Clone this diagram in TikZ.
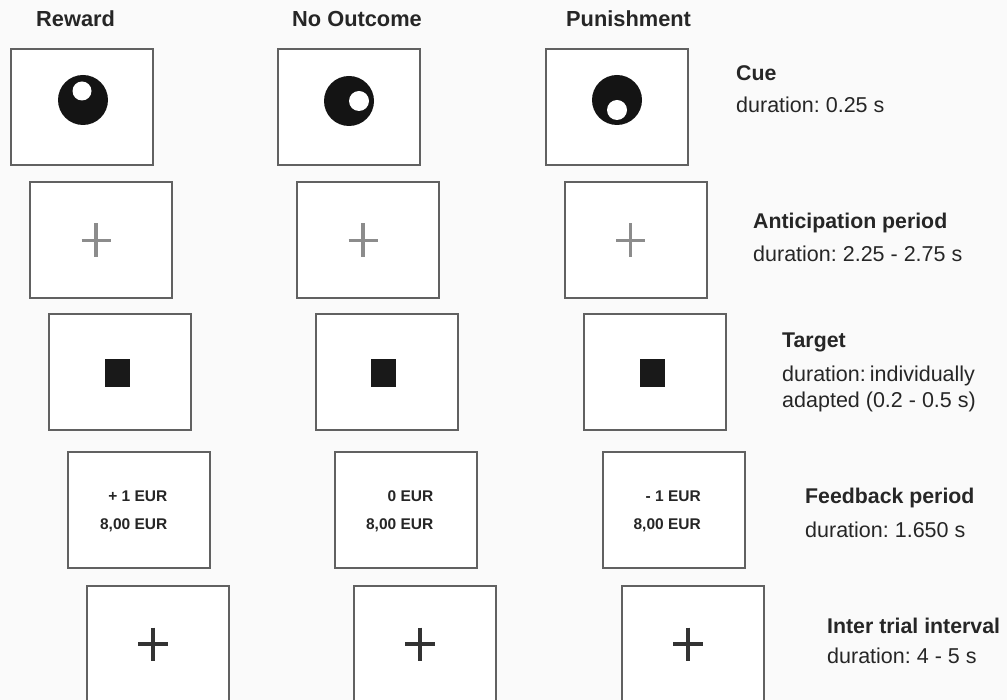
\documentclass[tikz,border=0pt]{standalone}
\usepackage{fontspec}
\setmainfont{Liberation Sans}
\frenchspacing
\begin{document}
\begin{tikzpicture}[x=1pt,y=-1pt,
  scr/.style={draw=black!62,line width=2pt,fill=white,minimum width=142pt,minimum height=116pt,inner sep=0pt},
  hdr/.style={anchor=base west,inner sep=0pt,font=\fontsize{21.8}{25}\selectfont\bfseries,text=black!85},
  lab/.style={anchor=base west,inner sep=0pt,font=\fontsize{21.3}{25}\selectfont\bfseries,text=black!85},
  dur/.style={anchor=base west,inner sep=0pt,font=\fontsize{21.5}{25}\selectfont,text=black!85},
  eur/.style={anchor=base east,inner sep=0pt,font=\fontsize{15.5}{18}\selectfont\bfseries,text=black!85},
  fixg/.style={draw=black!45,line width=3.05pt},
  fixd/.style={draw=black!80,line width=3.05pt},
  disc/.style={fill=black!92},
  hole/.style={fill=white},
  tgt/.style={fill=black!90}]
\fill[white!98!black] (0,0) rectangle (1007,700);
\useasboundingbox (0,0) rectangle (1007,700);

% headers
\node[hdr] (hR) at (36,27) {Reward};
\node[hdr] (hN) at (292,27) {No Outcome};
\node[hdr] (hP) at (566,27) {Punishment};

% row 1: cue
\node[scr] (c1) at (81.5,107) {};
\node[scr] (c2) at (349,107) {};
\node[scr] (c3) at (617,107) {};
\fill[disc] ([shift={(1.5,-7)}]c1.center) circle (25);
\fill[hole] ([shift={(0.5,-16)}]c1.center) circle (9.5);
\fill[disc] ([shift={(0,-6)}]c2.center) circle (25);
\fill[hole] ([shift={(10,-6)}]c2.center) circle (10);
\fill[disc] ([shift={(0,-7)}]c3.center) circle (25);
\fill[hole] ([shift={(0,3)}]c3.center) circle (10);
\node[lab] (lc) at (736,81) {Cue};
\node[dur] (dc) at (736,113) {duration: 0.25 s};

% row 2: anticipation
\node[scr] (a1) at (101,240.5) {};
\node[scr] (a2) at (368,240.5) {};
\node[scr] (a3) at (635.5,240.5) {};
\foreach \n in {a1,a2,a3}{
  \draw[fixg] ([shift={(-19.5,0)}]\n.center) -- ([shift={(9.5,0)}]\n.center);
  \draw[fixg] ([shift={(-5,-17)}]\n.center) -- ([shift={(-5,17)}]\n.center);
}
\node[lab] (la) at (753,229) {Anticipation period};
\node[dur] (da) at (753,262) {duration: 2.25 - 2.75 s};

% row 3: target
\node[scr] (t1) at (120,372.5) {};
\node[scr] (t2) at (386.5,372.5) {};
\node[scr] (t3) at (655,372.5) {};
\foreach \n in {t1,t2,t3}{
  \fill[tgt] ([shift={(-15.5,-13.5)}]\n.center) rectangle ([shift={(9.5,14.5)}]\n.center);
}
\node[lab] (lt) at (782,348) {Target};
\node[dur] (dt1) at (782,382) {duration:\hspace{-2pt} individually};
\node[dur] (dt2) at (782,408) {adapted (0.2 - 0.5 s)};

% row 4: feedback
\node[scr] (f1) at (138.5,510) {};
\node[scr] (f2) at (405.5,510) {};
\node[scr] (f3) at (674,510) {};
\node[eur] (f1a) at ([shift={(29,-9)}]f1.center) {+ 1 EUR};
\node[eur] (f1b) at ([shift={(29,19)}]f1.center) {8,00 EUR};
\node[eur] (f2a) at ([shift={(28,-9)}]f2.center) {0 EUR};
\node[eur] (f2b) at ([shift={(28,19)}]f2.center) {8,00 EUR};
\node[eur] (f3a) at ([shift={(27,-9)}]f3.center) {- 1 EUR};
\node[eur] (f3b) at ([shift={(27,19)}]f3.center) {8,00 EUR};
\node[lab] (lf) at (805,503) {Feedback period};
\node[dur] (df) at (805,537) {duration: 1.650 s};

% row 5: inter trial interval
\node[scr] (i1) at (157.5,644) {};
\node[scr] (i2) at (424.5,644) {};
\node[scr] (i3) at (692.5,644) {};
\foreach \n in {i1,i2,i3}{
  \draw[fixd] ([shift={(-19.5,0)}]\n.center) -- ([shift={(10.5,0)}]\n.center);
  \draw[fixd] ([shift={(-4.5,-16.5)}]\n.center) -- ([shift={(-4.5,16.5)}]\n.center);
}
\node[lab] (li) at (827,633) {Inter trial interval};
\node[dur] (di) at (827,663) {duration: 4 - 5 s};
\end{tikzpicture}
\end{document}
